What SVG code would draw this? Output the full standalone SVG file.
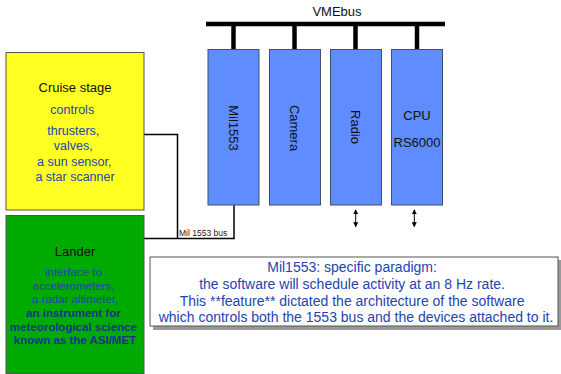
<svg xmlns="http://www.w3.org/2000/svg" width="561" height="374" viewBox="0 0 561 374">
  <defs>
    <marker id="ah" viewBox="0 0 6 6" refX="5" refY="3" markerWidth="5" markerHeight="5" orient="auto-start-reverse">
      <path d="M0,0 L6,3 L0,6 z" fill="#000"/>
    </marker>
  </defs>
  <style>
    text { font-family: "Liberation Sans", Arial, sans-serif; }
    .card { fill: #5f8cff; stroke: #40506a; stroke-width: 1; }
    .bus { stroke: #000; stroke-width: 4.5; fill: none; }
    .wire { stroke: #000; stroke-width: 1.5; fill: none; }
    .lbl { font-size: 13px; fill: #111; text-anchor: middle; }
    .blue { fill: #2344b0; text-anchor: middle; }
    .navy { fill: #1c4a9c; text-anchor: middle; }
    .navyb { fill: #17358a; text-anchor: middle; }
  </style>
  <rect width="561" height="374" fill="#fff"/>

  <!-- VME backplane -->
  <g id="vmebus">
    <text x="337" y="16" class="lbl" font-size="12">VMEbus</text>
    <line x1="206" y1="24" x2="445" y2="24" class="bus"/>
  </g>

  <!-- connectors -->
  <g id="connectors">
    <line x1="233.5" y1="24" x2="233.5" y2="49.5" class="bus"/>
    <line x1="294.5" y1="24" x2="294.5" y2="49.5" class="bus"/>
    <line x1="355.5" y1="24" x2="355.5" y2="49.5" class="bus"/>
    <line x1="417" y1="24" x2="417" y2="49.5" class="bus"/>
    <polyline points="144,134.5 177.5,134.5 177.5,238.5" class="wire"/>
    <polyline points="144,238.5 234,238.5 234,205" class="wire"/>
    <text x="179" y="235.5" font-size="8.5" fill="#222">Mil 1553 bus</text>
    <line x1="355.7" y1="210" x2="355.7" y2="226.5" stroke="#000" stroke-width="1" marker-start="url(#ah)" marker-end="url(#ah)"/>
    <line x1="414.3" y1="210" x2="414.3" y2="226.5" stroke="#000" stroke-width="1" marker-start="url(#ah)" marker-end="url(#ah)"/>
  </g>

  <g id="mil1553">
    <rect x="208" y="49.5" width="51" height="155.5" class="card"/>
    <text transform="translate(229,128) rotate(90)" class="lbl">Mil1553</text>
  </g>
  <g id="camera">
    <rect x="269.5" y="49.5" width="51" height="155.5" class="card"/>
    <text transform="translate(290,128) rotate(90)" class="lbl">Camera</text>
  </g>
  <g id="radio">
    <rect x="330.5" y="49.5" width="51" height="155.5" class="card"/>
    <text transform="translate(351,127) rotate(90)" class="lbl">Radio</text>
  </g>
  <g id="cpu">
    <rect x="391.5" y="49.5" width="51" height="155.5" class="card"/>
    <text x="417" y="120" class="lbl" font-size="13">CPU</text>
    <text x="417" y="146.5" class="lbl" font-size="15">RS6000</text>
  </g>

  <g id="cruise">
    <rect x="6" y="52.5" width="138" height="157.5" fill="#ffff22" stroke="#555" stroke-width="1"/>
    <text x="75" y="92" class="lbl" font-size="12.5">Cruise stage</text>
    <text class="blue" font-size="12.5">
      <tspan x="74" y="113.5">controls</tspan>
      <tspan x="75" y="134.5">thrusters,</tspan>
      <tspan x="75" y="150">valves,</tspan>
      <tspan x="76" y="165.5">a sun sensor,</tspan>
      <tspan x="75" y="181">a star scanner</tspan>
    </text>
  </g>

  <g id="lander">
    <rect x="6" y="215.5" width="138" height="158" fill="#00aa00" stroke="#555" stroke-width="1"/>
    <text x="75" y="256" class="lbl" font-size="12.5">Lander</text>
    <text class="navy" font-size="11.5">
      <tspan x="75" y="276">interface to</tspan>
      <tspan x="75" y="290">accelerometers,</tspan>
      <tspan x="75" y="303">a radar altimeter,</tspan>
    </text>
    <text class="navyb" font-size="11.5" font-weight="bold">
      <tspan x="75" y="317">an instrument for</tspan>
      <tspan x="75" y="331">meteorological science</tspan>
      <tspan x="75" y="344">known as the ASI/MET</tspan>
    </text>
  </g>

  <g id="note">
    <rect x="153" y="260" width="410" height="70" fill="#999"/>
    <rect x="150" y="257" width="408" height="69" fill="#fff" stroke="#555" stroke-width="1"/>
    <text class="blue" font-size="14">
      <tspan x="354" y="271.5">Mil1553: specific paradigm:</tspan>
      <tspan x="354" y="288.5">the software will schedule activity at an 8 Hz rate.</tspan>
      <tspan x="354" y="305.5">This **feature** dictated the architecture of the software</tspan>
      <tspan x="356" y="322">which controls both the 1553 bus and the devices attached to it.</tspan>
    </text>
  </g>
</svg>
